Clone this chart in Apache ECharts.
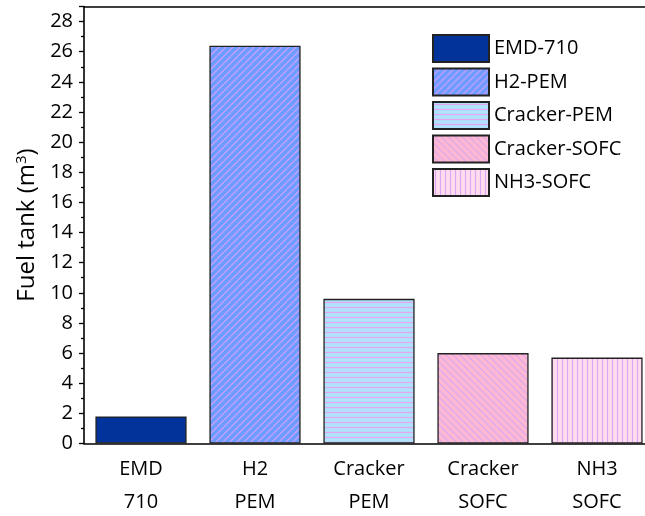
<!DOCTYPE html>
<html><head><meta charset="utf-8">
<script src="https://cdn.jsdelivr.net/npm/echarts@6/dist/echarts.min.js"></script>
<style>html,body{margin:0;padding:0;background:#fff}#c{width:645px;height:516px}</style>
</head><body><div id="c"></div>
<script>
const categories = ['EMD\n710', 'H2\nPEM', 'Cracker\nPEM', 'Cracker\nSOFC', 'NH3\nSOFC'];
const seriesNames = ['EMD-710', 'H2-PEM', 'Cracker-PEM', 'Cracker-SOFC', 'NH3-SOFC'];
const values = [1.8, 26.4, 9.6, 6.0, 5.7];
const yTicks = [0, 2, 4, 6, 8, 10, 12, 14, 16, 18, 20, 22, 24, 26, 28];

function pattern(bg, line, kind, step, lw) {
  const c = document.createElement('canvas');
  c.width = step; c.height = step;
  const g = c.getContext('2d');
  g.fillStyle = bg; g.fillRect(0, 0, step, step);
  if (kind) {
    g.strokeStyle = line; g.lineWidth = lw;
    g.beginPath();
    if (kind === 'h') { g.moveTo(0, step / 2); g.lineTo(step, step / 2); }
    else if (kind === 'v') { g.moveTo(step / 2, 0); g.lineTo(step / 2, step); }
    else if (kind === 'f') {
      for (let k = -1; k <= 1; k++) { g.moveTo(k * step, step); g.lineTo(k * step + step, 0); }
    } else if (kind === 'b') {
      for (let k = -1; k <= 1; k++) { g.moveTo(k * step, 0); g.lineTo(k * step + step, step); }
    }
    g.stroke();
  }
  return { image: c, repeat: 'repeat' };
}
const fills = [
  '#02339a',
  pattern('#6d9bff', '#c8a2ff', 'f', 7, 1.3),
  pattern('#b0e2fb', '#e6a6f2', 'h', 5, 1.2),
  pattern('#ffb8d3', '#d6a8ee', 'b', 7, 1.2),
  pattern('#ffdcee', '#d9a9f6', 'v', 5, 1.2)
];

const font = 'Open Sans';
const series = seriesNames.map((n, i) => ({
  name: n, type: 'bar', stack: 'all', barWidth: '80%',
  data: values.map((v, j) => j === i ? v : '-'),
  itemStyle: { color: fills[i], borderColor: '#222', borderWidth: 1.3 },
  emphasis: { disabled: true }
}));

const chart = echarts.init(document.getElementById('c'), null, { renderer: 'canvas' });
chart.setOption({
  animation: false,
  textStyle: { fontFamily: font },
  grid: { left: 84, top: 6.5, width: 570, height: 437, outerBoundsMode: 'none', containLabel: false },
  legend: {
    orient: 'vertical', left: 432, top: 34, padding: 0, itemWidth: 56, itemHeight: 27, itemGap: 4.5,
    icon: 'rect', data: seriesNames,
    textStyle: { fontFamily: font, fontSize: 20, color: '#000' }
  },
  xAxis: [
    {
      type: 'category', data: categories, position: 'bottom',
      axisLine: { lineStyle: { color: '#000', width: 1.6 } },
      axisTick: { alignWithLabel: true, length: 6, lineStyle: { color: '#000', width: 1.3 } },
      axisLabel: { fontFamily: font, fontSize: 20, color: '#000', lineHeight: 33, margin: 9 }
    },
    {
      type: 'category', data: categories, position: 'bottom',
      axisLine: { show: false },
      axisTick: { length: 3, lineStyle: { color: '#000', width: 1.3 } },
      axisLabel: { show: false }
    },
    {
      type: 'category', data: categories, position: 'top',
      axisLine: { lineStyle: { color: '#000', width: 1.6 } },
      axisTick: { show: false }, axisLabel: { show: false }
    }
  ],
  yAxis: {
    type: 'value', min: 0, max: 29, interval: 2,
    name: '{a|Fuel tank (m}{s|3}{a|)}', nameLocation: 'middle', nameGap: 42, nameRotate: 90,
    nameTextStyle: { rich: { a: { fontFamily: font, fontSize: 24, color: '#000' }, s: { fontFamily: font, fontSize: 15, color: '#000', verticalAlign: 'top', padding: [0, 0, 10, 0] } } },
    axisLine: { show: true, lineStyle: { color: '#000', width: 1.6 } },
    axisTick: { show: true, length: 5, lineStyle: { color: '#000', width: 1.3 } },
    minorTick: { show: true, splitNumber: 2, length: 3, lineStyle: { color: '#000', width: 1.3 } },
    splitLine: { show: false },
    axisLabel: {
      fontFamily: font, fontSize: 20, color: '#000', margin: 11,
      formatter: v => yTicks.includes(v) ? String(v) : ''
    }
  },
  series
});
</script></body></html>
